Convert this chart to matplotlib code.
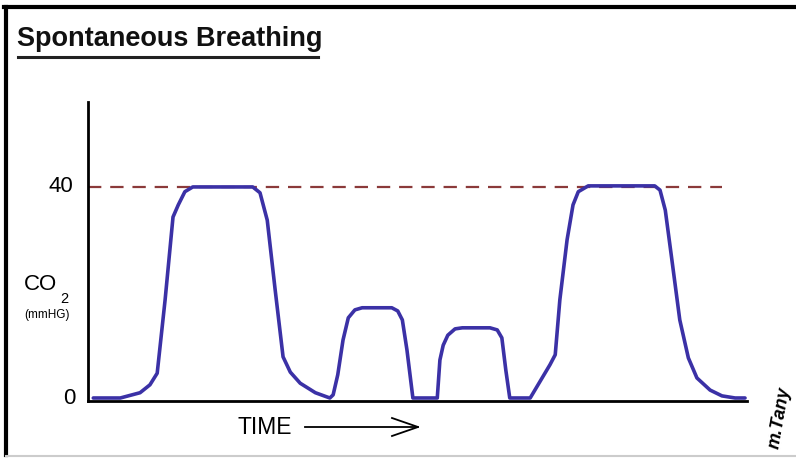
import matplotlib.pyplot as plt
from matplotlib.lines import Line2D

plt.rcParams['font.family'] = ['Liberation Sans', 'DejaVu Sans']

# time (arbitrary units, 0-100) and CO2 (mmHg)
time = [0.8, 4.9, 7.9, 9.4, 10.5, 11.7, 12.9, 13.7, 14.7, 15.9, 25.0, 26.1, 27.2, 28.4, 29.6, 30.7, 32.2, 34.5, 36.7,
        37.2, 37.9, 38.7, 39.5, 40.5, 41.6, 46.1, 47.0, 47.7, 48.4, 49.3, 53.0,
        53.4, 53.9, 54.6, 55.7, 56.8, 61.0, 62.1, 62.8, 63.4, 64.0, 67.1,
        70.1, 70.9, 71.6, 72.7, 73.6, 74.4, 75.9, 86.0, 86.8, 87.6, 88.6, 89.8, 91.1, 92.4, 94.4, 96.2, 98.2, 99.7]
co2 = [0, 0, 1.0, 2.5, 4.7, 18.6, 34.3, 36.6, 39.1, 40, 40, 38.9, 33.7, 20.5, 7.8, 4.9, 2.8, 1.0, 0,
       0.6, 4.4, 11.0, 15.2, 16.7, 17.1, 17.1, 16.5, 14.8, 9.1, 0, 0,
       7.2, 10.0, 11.9, 13.1, 13.3, 13.3, 12.9, 11.4, 5.3, 0, 0,
       6.3, 8.2, 18.6, 30.0, 36.6, 39.1, 40.2, 40.2, 39.4, 35.6, 26.2, 14.8, 7.6, 3.8, 1.5, 0.4, 0, 0]

normal_level = 40
level_end = 96.2

W, H = 796, 459
fig = plt.figure(figsize=(W / 100, H / 100), dpi=100)
ax = fig.add_axes([88 / W, 58 / H, 659 / W, 299 / H])

ax.plot([0, level_end], [normal_level, normal_level], color='#8b3a3a', lw=1.6, dashes=(6, 4))
ax.plot(time, co2, color='#3b31a6', lw=2.6, solid_joinstyle='round', solid_capstyle='round')

ax.set_xlim(0, 100)
ax.set_ylim(-0.57, 56.1)
for s in ['top', 'right']:
    ax.spines[s].set_visible(False)
for s in ['left', 'bottom']:
    ax.spines[s].set_linewidth(2)
    ax.spines[s].set_color('black')
ax.set_xticks([])
ax.set_yticks([])
ax.patch.set_alpha(0)


def px(x, y):
    return x / W, 1 - y / H


# frame
fig.add_artist(Line2D([4 / W, 1], [1 - 7 / H] * 2, color='black', lw=3))
fig.add_artist(Line2D([6 / W] * 2, [1 - 7 / H, 1 - 455 / H], color='black', lw=3))
fig.add_artist(Line2D([6 / W, 1], [1 - 456 / H] * 2, color='#cccccc', lw=1.5))

# title with underline
fig.text(*px(17, 46), 'Spontaneous Breathing', fontsize=19.5, fontweight='bold', va='baseline', ha='left',
         color='#111111')
fig.add_artist(Line2D([18 / W, 318 / W], [1 - 57 / H] * 2, color='#222222', lw=2.2))

# axis labels
fig.text(*px(73, 187), '40', fontsize=16, ha='right', va='center')
fig.text(*px(75, 398), '0', fontsize=16, ha='right', va='center')
fig.text(*px(24, 285), 'CO', fontsize=16, ha='left', va='center')
fig.text(*px(60, 299), '2', fontsize=10.5, ha='left', va='center')
fig.text(*px(47, 315), '(mmHG)', fontsize=8.5, ha='center', va='center')

fig.text(*px(237, 427), 'TIME', fontsize=16.5, ha='left', va='center')
fig.add_artist(Line2D([305 / W, 418 / W], [1 - 427 / H] * 2, color='black', lw=1.3))
fig.add_artist(Line2D([392 / W, 418 / W, 392 / W], [1 - 418 / H, 1 - 427 / H, 1 - 436 / H], color='black', lw=1.3))

# signature
fig.text(*px(780, 418), 'm.Tany', fontsize=13, rotation=80, ha='center', va='center',
         fontstyle='italic', fontweight='bold')

fig.savefig('out.png', dpi=100)
